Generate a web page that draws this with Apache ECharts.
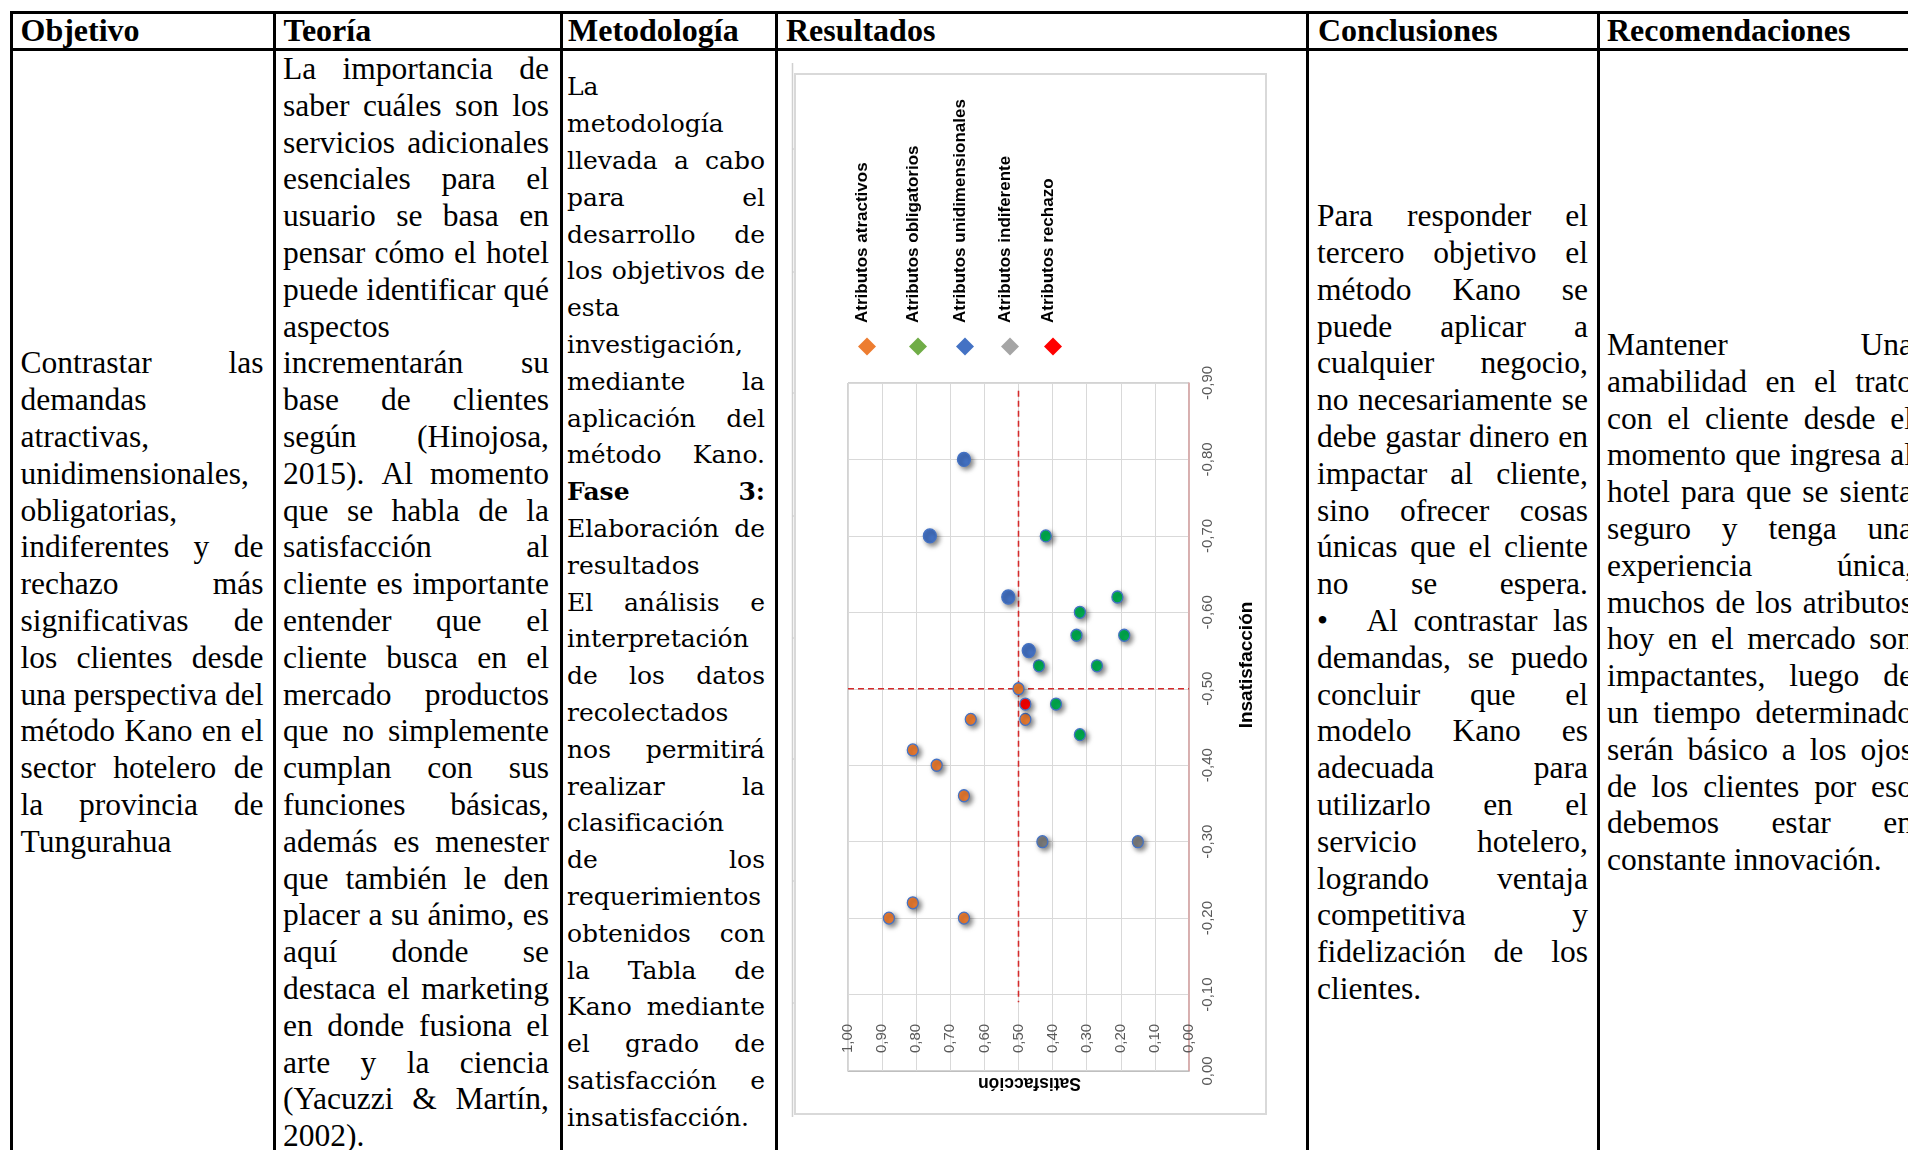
<!DOCTYPE html>
<html lang="es">
<head>
<meta charset="utf-8">
<title>Matriz de consistencia – método Kano</title>
<script src="https://cdn.jsdelivr.net/npm/echarts@6/dist/echarts.min.js"></script>
<style>
  html, body { margin: 0; padding: 0; background: #fff; }
  body {
    width: 1908px; height: 1150px; overflow: hidden; position: relative;
    font-family: "Liberation Serif", "Times New Roman", serif; color: #000;
  }
  .rule { position: absolute; background: #000; z-index: 5; }
  .head {
    position: absolute; top: 12px; height: 37px; display: flex; align-items: center;
    font-weight: bold; font-size: 32px; white-space: nowrap;
  }
  .cell { position: absolute; top: 50px; height: 1106px; display: flex; align-items: center; }
  .col { width: 100%; }
  .ln { display: flex; justify-content: space-between; height: 36.8px; line-height: 36.8px; white-space: pre; }
  .ln.last { justify-content: flex-start; }
  .ln span { flex: none; }
  .ln span.bul { width: 34px; }
  .ser { font-size: 31.5px; }
  .met { font-family: "DejaVu Serif", serif; font-size: 25px; }
  #chart { position: absolute; left: 776px; top: 50px; width: 531px; height: 1106px; }
</style>
</head>
<body>
<div id="table"></div>
<div id="chart"></div>
<script>
// ---- Kano diagram data: [satisfacción, insatisfacción] ----
const categorias = [
  'Atributos atractivos',
  'Atributos obligatorios',
  'Atributos unidimensionales',
  'Atributos indiferente',
  'Atributos rechazo'
];
const atractivos = [
  [0.50, -0.50], [0.64, -0.46], [0.48, -0.46], [0.81, -0.42], [0.74, -0.40],
  [0.66, -0.36], [0.81, -0.22], [0.88, -0.20], [0.66, -0.20]
];
const obligatorios = [
  [0.42, -0.70], [0.21, -0.62], [0.32, -0.60], [0.33, -0.57], [0.19, -0.57],
  [0.44, -0.53], [0.27, -0.53], [0.39, -0.48], [0.32, -0.44]
];
const unidimensionales = [[0.66, -0.80], [0.76, -0.70], [0.53, -0.62], [0.47, -0.55]];
const indiferentes = [[0.43, -0.30], [0.15, -0.30]];
const rechazo = [[0.48, -0.48]];

// axis ticks
const ticksSatisfaccion = [0, 0.1, 0.2, 0.3, 0.4, 0.5, 0.6, 0.7, 0.8, 0.9, 1.0];
const ticksInsatisfaccion = [-0.9, -0.8, -0.7, -0.6, -0.5, -0.4, -0.3, -0.2, -0.1, 0];

// quadrant dividers
const corteSatisfaccion = 0.5;
const corteInsatisfaccion = -0.5;
const tramoCorteVertical = [-0.89, -0.09];

// ---- table text ----
const encabezados = ['Objetivo', 'Teoría', 'Metodología', 'Resultados', 'Conclusiones', 'Recomendaciones'];
const objetivoTexto = [
  'Contrastar las', 'demandas', 'atractivas,', 'unidimensionales,', 'obligatorias,',
  'indiferentes y de', 'rechazo más', 'significativas de', 'los clientes desde',
  'una perspectiva del', 'método Kano en el', 'sector hotelero de', 'la provincia de', 'Tungurahua'
];
const teoriaTexto = [
  'La importancia de', 'saber cuáles son los', 'servicios adicionales', 'esenciales para el',
  'usuario se basa en', 'pensar cómo el hotel', 'puede identificar qué', 'aspectos',
  'incrementarán su', 'base de clientes', 'según (Hinojosa,', '2015). Al momento',
  'que se habla de la', 'satisfacción al', 'cliente es importante', 'entender que el',
  'cliente busca en el', 'mercado productos', 'que no simplemente', 'cumplan con sus',
  'funciones básicas,', 'además es menester', 'que también le den', 'placer a su ánimo, es',
  'aquí donde se', 'destaca el marketing', 'en donde fusiona el', 'arte y la ciencia',
  '(Yacuzzi & Martín,', '2002).'
];
const metodologiaTexto = [
  'La', 'metodología', 'llevada a cabo', 'para el', 'desarrollo de', 'los objetivos de',
  'esta', 'investigación,', 'mediante la', 'aplicación del', 'método Kano.',
  { t: 'Fase 3:', b: true }, 'Elaboración de', 'resultados', 'El análisis e', 'interpretación',
  'de los datos', 'recolectados', 'nos permitirá', 'realizar la', 'clasificación', 'de los',
  'requerimientos', 'obtenidos con', 'la Tabla de', 'Kano mediante', 'el grado de',
  'satisfacción e', 'insatisfacción.'
];
const conclusionesTexto = [
  'Para responder el', 'tercero objetivo el', 'método Kano se', 'puede aplicar a',
  'cualquier negocio,', 'no necesariamente se', 'debe gastar dinero en', 'impactar al cliente,',
  'sino ofrecer cosas', 'únicas que el cliente', 'no se espera.', '• Al contrastar las',
  'demandas, se puedo', 'concluir que el', 'modelo Kano es', 'adecuada para',
  'utilizarlo en el', 'servicio hotelero,', 'logrando ventaja', 'competitiva y',
  'fidelización de los', 'clientes.'
];
const recomendacionesTexto = [
  'Mantener Una', 'amabilidad en el trato', 'con el cliente desde el', 'momento que ingresa al',
  'hotel para que se sienta', 'seguro y tenga una', 'experiencia única,', 'muchos de los atributos',
  'hoy en el mercado son', 'impactantes, luego de', 'un tiempo determinado',
  'serán básico a los ojos', 'de los clientes por eso', 'debemos estar en', 'constante innovación.'
];

// ---- table layout ----
const table = document.getElementById('table');
const columnRules = [11, 274, 561, 776, 1307, 1598];
const rowRules = [12.5, 49];
columnRules.forEach(x => {
  const d = document.createElement('div');
  d.className = 'rule';
  Object.assign(d.style, { left: (x - 1.5) + 'px', top: '11px', width: '3px', height: '1200px' });
  table.appendChild(d);
});
rowRules.forEach(y => {
  const d = document.createElement('div');
  d.className = 'rule';
  Object.assign(d.style, { left: '9.5px', top: (y - 1.5) + 'px', width: '1950px', height: '3px' });
  table.appendChild(d);
});

const headerLeft = [20.5, 283.5, 568, 786, 1318, 1607];
encabezados.forEach((h, i) => {
  const d = document.createElement('div');
  d.className = 'head';
  d.style.left = headerLeft[i] + 'px';
  d.textContent = h;
  table.appendChild(d);
});

function textColumn(lines, left, width, cls) {
  const cell = document.createElement('div');
  cell.className = 'cell ' + cls;
  Object.assign(cell.style, { left: left + 'px', width: width + 'px' });
  const col = document.createElement('div');
  col.className = 'col';
  lines.forEach((line, i) => {
    const text = typeof line === 'string' ? line : line.t;
    const row = document.createElement('div');
    const last = i === lines.length - 1;
    row.className = 'ln' + (last ? ' last' : '');
    if (typeof line === 'object' && line.b) row.style.fontWeight = 'bold';
    if (last) {
      const s = document.createElement('span');
      s.textContent = text;
      row.appendChild(s);
    } else {
      text.split(' ').forEach(w => {
        const s = document.createElement('span');
        s.textContent = w;
        if (w === '•') s.className = 'bul';
        row.appendChild(s);
      });
    }
    col.appendChild(row);
  });
  cell.appendChild(col);
  table.appendChild(cell);
}
textColumn(objetivoTexto, 20.5, 243, 'ser');
textColumn(teoriaTexto, 283, 266, 'ser');
textColumn(metodologiaTexto, 567, 198, 'met');
textColumn(conclusionesTexto, 1317, 271, 'ser');
textColumn(recomendacionesTexto, 1607, 306, 'ser');

// ---- Kano scatter ----
const coloresPunto = ['#ED7D31', '#00B050', '#4472C4', '#7F7F7F', '#FF0000'];
const coloresLeyenda = ['#ED7D31', '#70AD47', '#4472C4', '#A5A5A5', '#FF0000'];
const seriesDatos = [atractivos, obligatorios, unidimensionales, indiferentes, rechazo];
const coma = v => (Math.abs(v) < 1e-9 ? 0 : v).toFixed(2).replace('.', ',');

const chart = echarts.init(document.getElementById('chart'), null, { renderer: 'canvas' });

const legendX = [91, 142, 189, 234, 277];
const legendGraphics = [];
categorias.forEach((name, i) => {
  legendGraphics.push({
    type: 'polygon', x: legendX[i], y: 296.5, silent: true,
    shape: { points: [[0, -9], [9, 0], [0, 9], [-9, 0]] },
    style: { fill: coloresLeyenda[i] }
  });
  legendGraphics.push({
    type: 'text', x: legendX[i] - 5, y: 273, rotation: Math.PI / 2, silent: true,
    style: {
      text: name, x: 0, y: 0, align: 'left', verticalAlign: 'middle',
      font: 'bold 17px "Liberation Sans", Arial, sans-serif', fill: '#000'
    }
  });
});

const frameTicks = [99, 222, 343, 466, 588, 709, 831, 953].map(y => ({
  type: 'line', silent: true,
  shape: { x1: 16.5, y1: y, x2: 19.5, y2: y },
  style: { stroke: '#C8C8C8', lineWidth: 1 }
}));

const option = {
  backgroundColor: 'transparent',
  animation: false,
  grid: {
    left: 72, top: 333, width: 341, height: 688,
    show: true, borderColor: '#A6A6A6', borderWidth: 1,
    containLabel: false, outerBoundsMode: 'none'
  },
  xAxis: {
    type: 'value',
    min: ticksSatisfaccion[0], max: ticksSatisfaccion[ticksSatisfaccion.length - 1],
    interval: ticksSatisfaccion[1] - ticksSatisfaccion[0],
    inverse: true, position: 'bottom',
    axisLine: { show: true, onZero: false, lineStyle: { color: '#BFBFBF', width: 1 } },
    axisTick: { show: false },
    axisLabel: {
      inside: true, rotate: 90, margin: 18, color: '#595959', fontSize: 15,
      fontFamily: '"Liberation Sans", Arial, sans-serif',
      showMinLabel: true, showMaxLabel: true, formatter: coma
    },
    splitLine: { show: true, lineStyle: { color: '#D9D9D9', width: 1 } }
  },
  yAxis: {
    type: 'value',
    min: ticksInsatisfaccion[0], max: ticksInsatisfaccion[ticksInsatisfaccion.length - 1],
    interval: 0.1,
    inverse: true, position: 'right',
    axisLine: { show: true, onZero: false, lineStyle: { color: '#D9A3A3', width: 1.5 } },
    axisTick: { show: false },
    axisLabel: {
      rotate: 90, margin: 11, color: '#595959', fontSize: 15,
      fontFamily: '"Liberation Sans", Arial, sans-serif',
      showMinLabel: true, showMaxLabel: true, formatter: coma
    },
    splitLine: { show: true, lineStyle: { color: '#D9D9D9', width: 1 } }
  },
  graphic: [
    {
      type: 'line', silent: true,
      shape: { x1: 16.5, y1: 13, x2: 16.5, y2: 1067 },
      style: { stroke: '#D0D0D0', lineWidth: 1.5 }
    },
    ...frameTicks,
    {
      type: 'rect', silent: true,
      shape: { x: 19, y: 24, width: 471, height: 1040 },
      style: { fill: 'none', stroke: '#D9D9D9', lineWidth: 2 }
    },
    ...legendGraphics,
    {
      type: 'text', x: 253.5, y: 1032.5, rotation: Math.PI, silent: true,
      style: {
        text: 'Satisfacción', x: 0, y: 0, align: 'center', verticalAlign: 'middle',
        font: 'bold 17.5px "Liberation Sans", Arial, sans-serif', fill: '#000'
      }
    },
    {
      type: 'text', x: 470.5, y: 615, rotation: Math.PI / 2, silent: true,
      style: {
        text: 'Insatisfacción', x: 0, y: 0, align: 'center', verticalAlign: 'middle',
        font: 'bold 19px "Liberation Sans", Arial, sans-serif', fill: '#000'
      }
    }
  ],
  series: [
    {
      type: 'line', silent: true, symbol: 'none', z: 2,
      data: [[corteSatisfaccion, tramoCorteVertical[0]], [corteSatisfaccion, tramoCorteVertical[1]]],
      lineStyle: { color: '#D42A2A', width: 1.6, type: [6, 4] }
    },
    {
      type: 'line', silent: true, symbol: 'none', z: 2,
      data: [[ticksSatisfaccion[ticksSatisfaccion.length - 1], corteInsatisfaccion], [ticksSatisfaccion[0], corteInsatisfaccion]],
      lineStyle: { color: '#D42A2A', width: 1.6, type: [6, 4] }
    },
    ...categorias.map((name, i) => ({
      type: 'scatter', name, data: seriesDatos[i], z: 3,
      symbol: 'circle', symbolSize: i === 2 ? [13, 14] : [11, 12],
      itemStyle: {
        color: coloresPunto[i], borderColor: '#4472C4', borderWidth: 1.3, opacity: 1,
        shadowBlur: 5, shadowColor: 'rgba(0,0,0,0.5)', shadowOffsetX: 2.5, shadowOffsetY: 2.5
      }
    }))
  ]
};
chart.setOption(option);
</script>
</body>
</html>
